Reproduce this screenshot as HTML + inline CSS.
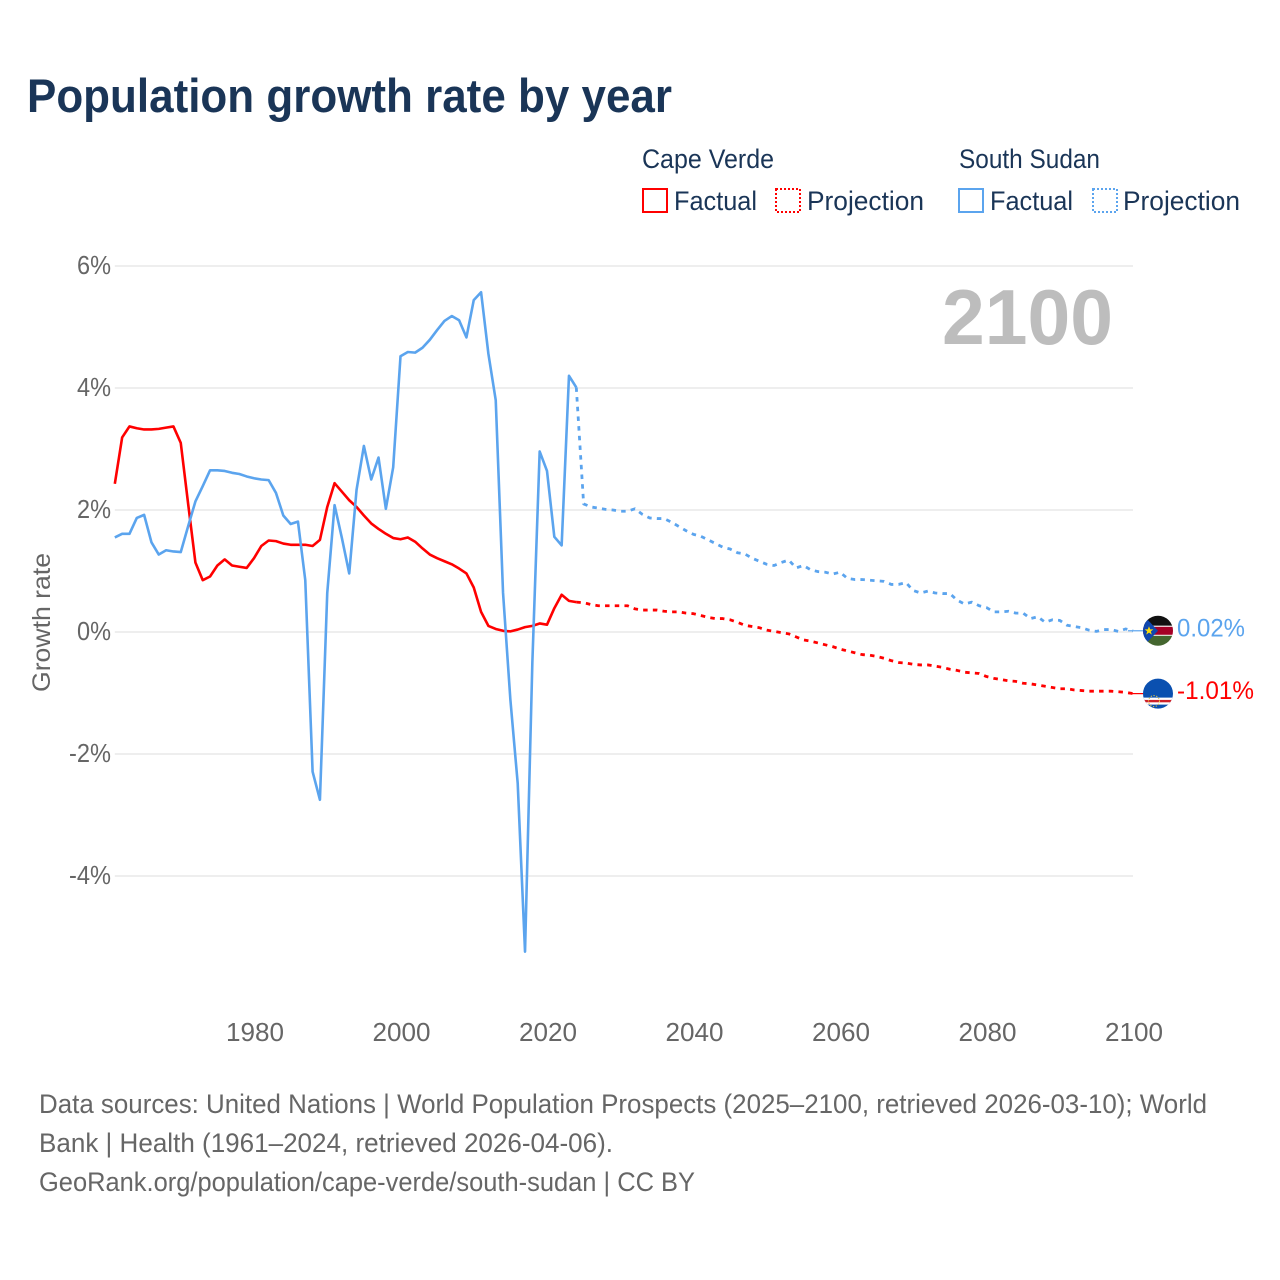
<!DOCTYPE html>
<html lang="en">
<head>
<meta charset="utf-8">
<title>Population growth rate by year</title>
<style>
html,body{margin:0;padding:0;background:#fff;width:1280px;height:1280px;overflow:hidden}
svg{display:block}
text{font-family:"Liberation Sans",sans-serif}
</style>
</head>
<body>
<svg id="chart" xmlns="http://www.w3.org/2000/svg" width="1280" height="1280" viewBox="0 0 1280 1280">
  <rect x="0" y="0" width="1280" height="1280" fill="#fff"/>
  <text x="27" y="112" font-size="47" font-weight="700" fill="#1a3557" textLength="645" lengthAdjust="spacingAndGlyphs">Population growth rate by year</text>

  <g font-size="27" fill="#1a3557">
    <text x="642" y="168" textLength="132" lengthAdjust="spacingAndGlyphs">Cape Verde</text>
    <text x="959" y="168" textLength="141" lengthAdjust="spacingAndGlyphs">South Sudan</text>
    <rect x="643" y="189" width="24" height="23" fill="none" stroke="#ff0000" stroke-width="2"/>
    <text x="674" y="210" textLength="83" lengthAdjust="spacingAndGlyphs">Factual</text>
    <rect x="776" y="189" width="24" height="23" fill="none" stroke="#ff0000" stroke-width="2" stroke-dasharray="2 2"/>
    <text x="807" y="210" textLength="117" lengthAdjust="spacingAndGlyphs">Projection</text>
    <rect x="959" y="189" width="24" height="23" fill="none" stroke="#5ba4ee" stroke-width="2"/>
    <text x="990" y="210" textLength="83" lengthAdjust="spacingAndGlyphs">Factual</text>
    <rect x="1093" y="189" width="24" height="23" fill="none" stroke="#5ba4ee" stroke-width="2" stroke-dasharray="2 2"/>
    <text x="1123" y="210" textLength="117" lengthAdjust="spacingAndGlyphs">Projection</text>
  </g>

  <g id="grid"></g>
  <g id="yticks"></g>
  <g id="xticks"></g>

  <text transform="translate(50,692) rotate(-90)" font-size="25" fill="#666" textLength="139" lengthAdjust="spacingAndGlyphs">Growth rate</text>
  <text x="942" y="344" font-size="78" font-weight="700" fill="#bdbdbd" textLength="171" lengthAdjust="spacingAndGlyphs">2100</text>

  <g id="series"></g>

  <clipPath id="flag-clip"><circle cx="0" cy="0" r="15"/></clipPath>

  <g id="flag-south-sudan">
    <g clip-path="url(#flag-clip)">
      <rect x="-15" y="-16" width="30" height="11" fill="#111"/>
      <rect x="-15" y="-5" width="30" height="10" fill="#fff"/>
      <rect x="-15" y="-4" width="30" height="8" fill="#a50026"/>
      <rect x="-15" y="5" width="30" height="11" fill="#44662f"/>
      <polygon points="-15,-16 0,0 -15,16" fill="#0f47af"/>
      <polygon points="-9,-4.5 -7.8,-1.4 -4.6,-1.4 -7.2,0.6 -6.2,3.8 -9,1.8 -11.8,3.8 -10.8,0.6 -13.4,-1.4 -10.2,-1.4" fill="#fcdd09"/>
    </g>
  </g>
  <g id="flag-cape-verde">
    <g clip-path="url(#flag-clip)">
      <rect x="-15" y="-16" width="30" height="32" fill="#0a50b0"/>
      <rect x="-15" y="4" width="30" height="7" fill="#fff"/>
      <rect x="-15" y="6.3" width="30" height="2.4" fill="#cf2027"/>
      <circle cx="-4" cy="7.5" r="5.5" fill="none" stroke="#e8c840" stroke-width="1.1" stroke-dasharray="1.2 1.6"/>
    </g>
  </g>

  <text id="end-label-south-sudan" x="1177" font-size="25" fill="#5ba4ee" textLength="68" lengthAdjust="spacingAndGlyphs"></text>
  <text id="end-label-cape-verde" x="1177" font-size="25" fill="#ff0000" textLength="77" lengthAdjust="spacingAndGlyphs"></text>

  <g font-size="27" fill="#666">
    <text x="39" y="1113" textLength="1168" lengthAdjust="spacingAndGlyphs">Data sources: United Nations | World Population Prospects (2025–2100, retrieved 2026-03-10); World</text>
    <text x="39" y="1152" textLength="574" lengthAdjust="spacingAndGlyphs">Bank | Health (1961–2024, retrieved 2026-04-06).</text>
    <text x="39" y="1191" textLength="656" lengthAdjust="spacingAndGlyphs">GeoRank.org/population/cape-verde/south-sudan | CC BY</text>
  </g>
</svg>

<script>
const factualYears = [1961,1962,1963,1964,1965,1966,1967,1968,1969,1970,1971,1972,1973,1974,1975,1976,1977,1978,1979,1980,1981,1982,1983,1984,1985,1986,1987,1988,1989,1990,1991,1992,1993,1994,1995,1996,1997,1998,1999,2000,2001,2002,2003,2004,2005,2006,2007,2008,2009,2010,2011,2012,2013,2014,2015,2016,2017,2018,2019,2020,2021,2022,2023,2024];
const projectionYears = [2024,2025,2026,2027,2028,2029,2030,2031,2032,2033,2034,2035,2036,2037,2038,2039,2040,2041,2042,2043,2044,2045,2046,2047,2048,2049,2050,2051,2052,2053,2054,2055,2056,2057,2058,2059,2060,2061,2062,2063,2064,2065,2066,2067,2068,2069,2070,2071,2072,2073,2074,2075,2076,2077,2078,2079,2080,2081,2082,2083,2084,2085,2086,2087,2088,2089,2090,2091,2092,2093,2094,2095,2096,2097,2098,2099,2100];
const capeVerdeFactual = [2.43,3.19,3.37,3.34,3.32,3.32,3.33,3.35,3.37,3.10,2.11,1.14,0.85,0.91,1.09,1.19,1.09,1.07,1.05,1.21,1.41,1.50,1.49,1.45,1.43,1.43,1.43,1.41,1.51,2.05,2.44,2.30,2.16,2.05,1.91,1.78,1.69,1.61,1.54,1.52,1.55,1.48,1.37,1.27,1.21,1.16,1.11,1.04,0.96,0.73,0.33,0.10,0.05,0.02,0.01,0.04,0.08,0.10,0.14,0.12,0.39,0.61,0.51,0.49];
const capeVerdeProjection = [0.49,0.48,0.45,0.43,0.43,0.43,0.43,0.43,0.38,0.36,0.36,0.36,0.34,0.33,0.33,0.31,0.30,0.27,0.24,0.22,0.22,0.20,0.16,0.11,0.09,0.07,0.03,0.01,-0.01,-0.03,-0.08,-0.13,-0.15,-0.18,-0.21,-0.24,-0.28,-0.31,-0.34,-0.37,-0.38,-0.40,-0.43,-0.47,-0.50,-0.51,-0.53,-0.54,-0.54,-0.56,-0.58,-0.61,-0.63,-0.66,-0.67,-0.68,-0.73,-0.76,-0.78,-0.80,-0.81,-0.84,-0.85,-0.87,-0.89,-0.91,-0.93,-0.93,-0.95,-0.96,-0.97,-0.97,-0.97,-0.97,-0.98,-0.99,-1.01];
const southSudanFactual = [1.55,1.61,1.61,1.87,1.92,1.47,1.27,1.34,1.32,1.31,1.73,2.14,2.39,2.65,2.65,2.64,2.61,2.59,2.55,2.52,2.50,2.49,2.28,1.91,1.77,1.81,0.85,-2.29,-2.75,0.64,2.08,1.54,0.96,2.33,3.05,2.50,2.86,2.02,2.70,4.52,4.59,4.58,4.66,4.79,4.95,5.10,5.18,5.11,4.83,5.44,5.57,4.56,3.80,0.64,-1.11,-2.48,-5.24,-0.50,2.96,2.64,1.56,1.42,4.20,4.01];
const southSudanProjection = [4.01,2.10,2.05,2.03,2.01,2.00,1.98,1.98,2.02,1.93,1.87,1.86,1.86,1.80,1.73,1.66,1.60,1.57,1.51,1.45,1.39,1.36,1.30,1.28,1.21,1.16,1.11,1.09,1.14,1.18,1.05,1.09,1.02,0.99,0.98,0.95,0.98,0.88,0.86,0.86,0.85,0.84,0.83,0.78,0.78,0.81,0.68,0.64,0.67,0.64,0.63,0.63,0.52,0.46,0.49,0.43,0.40,0.33,0.33,0.34,0.31,0.31,0.22,0.25,0.16,0.20,0.19,0.11,0.09,0.07,0.03,0.01,0.04,0.04,0.01,0.05,0.02];
const yTickValues = [6,4,2,0,-2,-4];
const xTickValues = [1980,2000,2020,2040,2060,2080,2100];

const NS = 'http://www.w3.org/2000/svg';
const RED = '#ff0000';
const BLUE = '#5ba4ee';

function xScale(year) { return 254 + (year - 1980) * 7.325; }
function yScale(value) { return 632 - value * 61; }
function linePath(years, values) {
  return values.map(function (v, i) {
    return (i ? 'L' : 'M') + xScale(years[i]).toFixed(2) + ' ' + yScale(v).toFixed(2);
  }).join('');
}
function make(tag, attrs, parent) {
  const el = document.createElementNS(NS, tag);
  Object.keys(attrs).forEach(function (k) { el.setAttribute(k, attrs[k]); });
  parent.appendChild(el);
  return el;
}

const gridGroup = document.getElementById('grid');
const yTickGroup = document.getElementById('yticks');
yTickValues.forEach(function (v) {
  const line = make('line', {x1: xScale(1961), x2: xScale(2100), y1: yScale(v), y2: yScale(v), stroke: '#e9e9e9', 'stroke-width': 1.6}, gridGroup);
  
  
  const label = make('text', {x: 111, y: yScale(v) + 8, 'text-anchor': 'end', 'font-size': 25.5, fill: '#666', textLength: v < 0 ? 42 : 34, lengthAdjust: 'spacingAndGlyphs'}, yTickGroup);
  label.textContent = v + '%';
  
  
});

const xTickGroup = document.getElementById('xticks');
xTickValues.forEach(function (year) {
  const label = make('text', {x: xScale(year) + 1, y: 1041, 'text-anchor': 'middle', 'font-size': 25.5, fill: '#666', textLength: 58, lengthAdjust: 'spacingAndGlyphs'}, xTickGroup);
  label.textContent = String(year);
  
  
});

const seriesGroup = document.getElementById('series');
function drawSeries(color, factual, projection, factualName, projectionName, connectorName) {
  const solid = make('path', {d: linePath(factualYears, factual), fill: 'none', stroke: color, 'stroke-width': 2.6, 'stroke-linejoin': 'round'}, seriesGroup);
  
  
  const dashed = make('path', {d: linePath(projectionYears, projection), fill: 'none', stroke: color, 'stroke-width': 2.8, 'stroke-linejoin': 'round', 'stroke-dasharray': '4.5 5.2'}, seriesGroup);
  
  
  const lastY = yScale(projection[projection.length - 1]);
  const connector = make('line', {x1: xScale(2100) - 5, x2: xScale(2100) + 11, y1: lastY, y2: lastY, stroke: color, 'stroke-width': 1.2}, seriesGroup);
  
  
}
drawSeries(RED, capeVerdeFactual, capeVerdeProjection, 'cape-verde-factual-line', 'cape-verde-projection-line', 'cape-verde-end-connector');
drawSeries(BLUE, southSudanFactual, southSudanProjection, 'south-sudan-factual-line', 'south-sudan-projection-line', 'south-sudan-end-connector');

function placeEnd(flagId, labelId, values) {
  const last = values[values.length - 1];
  const y = yScale(last);
  document.getElementById(flagId).setAttribute('transform', 'translate(' + (xScale(2100) + 25) + ',' + y + ')');
  const label = document.getElementById(labelId);
  label.setAttribute('y', y + 5.5);
  label.textContent = last.toFixed(2) + '%';
}
placeEnd('flag-south-sudan', 'end-label-south-sudan', southSudanProjection);
placeEnd('flag-cape-verde', 'end-label-cape-verde', capeVerdeProjection);
</script>
</body>
</html>
